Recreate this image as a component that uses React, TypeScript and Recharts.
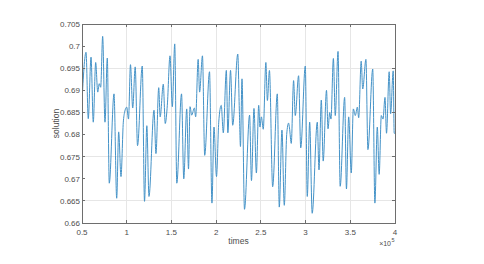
import { LineChart, Line, XAxis, YAxis, CartesianGrid, Label, ReferenceArea } from 'recharts';

// sample times (x10^5) and solution values
const times = [
  0.5, 0.545, 0.57, 0.601, 0.626, 0.653, 0.676, 0.693, 0.709, 0.731, 0.757, 0.783, 0.805, 0.858, 0.888,
  0.91, 0.936, 0.962, 0.977, 1.0, 1.02, 1.042, 1.067, 1.095, 1.121, 1.174, 1.199, 1.225, 1.249, 1.305,
  1.327, 1.358, 1.374, 1.409, 1.431, 1.454, 1.484, 1.51, 1.537, 1.56, 1.613, 1.638, 1.671, 1.691, 1.708,
  1.727, 1.756, 1.771, 1.799, 1.815, 1.847, 1.872, 1.926, 1.953, 1.976, 2.004, 2.029, 2.057, 2.08, 2.114,
  2.131, 2.161, 2.185, 2.242, 2.259, 2.272, 2.289, 2.317, 2.374, 2.395, 2.423, 2.45, 2.476, 2.49, 2.506,
  2.527, 2.556, 2.573, 2.596, 2.632, 2.684, 2.706, 2.736, 2.762, 2.789, 2.81, 2.82, 2.84, 2.866, 2.885,
  2.922, 2.946, 2.997, 3.019, 3.046, 3.074, 3.131, 3.15, 3.176, 3.197, 3.234, 3.251, 3.27, 3.284, 3.311,
  3.332, 3.363, 3.387, 3.437, 3.457, 3.482, 3.511, 3.534, 3.556, 3.579, 3.594, 3.622, 3.639, 3.675, 3.697,
  3.751, 3.775, 3.802, 3.823, 3.847, 3.866, 3.888, 3.905, 3.935, 3.951, 3.98, 3.991, 4.0,
];

const solution = [
  0.6875, 0.6986, 0.6836, 0.6975, 0.6828, 0.6963, 0.6896, 0.6915, 0.6907, 0.7022, 0.6828, 0.6973, 0.669, 0.6892, 0.6656,
  0.6806, 0.6705, 0.6828, 0.6851, 0.6862, 0.6835, 0.6958, 0.686, 0.6953, 0.6775, 0.6955, 0.6649, 0.682, 0.666, 0.6855,
  0.6757, 0.6906, 0.684, 0.6914, 0.6825, 0.6866, 0.6978, 0.6863, 0.7005, 0.669, 0.6892, 0.67, 0.6858, 0.6722, 0.6863,
  0.6844, 0.686, 0.684, 0.697, 0.6896, 0.6978, 0.6753, 0.6942, 0.6645, 0.6817, 0.6705, 0.6828, 0.6866, 0.6804, 0.6945,
  0.6804, 0.6945, 0.6821, 0.6982, 0.6858, 0.6773, 0.6926, 0.6631, 0.6844, 0.6696, 0.6859, 0.6713, 0.6866, 0.6817, 0.684,
  0.6812, 0.6963, 0.6877, 0.6945, 0.6682, 0.6892, 0.6636, 0.681, 0.664, 0.68, 0.6826, 0.6815, 0.678, 0.6922, 0.6843,
  0.6933, 0.677, 0.6955, 0.666, 0.6828, 0.6622, 0.6828, 0.672, 0.6878, 0.674, 0.69, 0.6813, 0.685, 0.6835, 0.6972,
  0.6843, 0.6988, 0.6683, 0.6884, 0.6677, 0.684, 0.6713, 0.6858, 0.6843, 0.6862, 0.6838, 0.6966, 0.6903, 0.697, 0.6766,
  0.6948, 0.6645, 0.6817, 0.671, 0.6843, 0.6835, 0.6884, 0.6803, 0.6942, 0.6847, 0.6944, 0.6803, 0.6803,
];

const xTicks = [0.5, 1, 1.5, 2, 2.5, 3, 3.5, 4];
const yTicks = [0.66, 0.665, 0.67, 0.675, 0.68, 0.685, 0.69, 0.695, 0.7, 0.705];

const data = times.map((t, i) => ({ t, v: solution[i] }));

// MATLAB-ish look
const FONT = "'Liberation Sans', Arial, sans-serif";
const AXIS = '#6e6e6e';
const TEXT = '#4d4d4d';
const GRID = '#e6e6e6';
const LINE = '#4593c8';

const fmt = (v: number) => String(Number(v.toFixed(3)));

const tickStyle = { fill: TEXT, fontSize: 8, fontFamily: FONT };
const axisLineStyle = { stroke: AXIS, shapeRendering: 'crispEdges' };

// tick marks only, no label (top / right box edges)
const noLabel = () => <g />;

export default function App() {
  return (
    <div style={{ position: 'absolute', left: 0, top: 0, width: 484, height: 264, background: '#fff' }}>
      <LineChart
        width={484}
        height={264}
        data={data}
        margin={{ top: 23, right: 88, bottom: 11, left: 32 }}
      >
        <CartesianGrid xAxisId="b" yAxisId="l" stroke={GRID} strokeWidth={1} shapeRendering="crispEdges" />
        <XAxis
          xAxisId="b"
          dataKey="t"
          type="number"
          domain={[0.5, 4]}
          ticks={xTicks}
          tickFormatter={fmt}
          height={30}
          tickSize={-3}
          tickMargin={9}
          tick={tickStyle}
          axisLine={axisLineStyle}
          tickLine={axisLineStyle}
          allowDataOverflow
        >
          <Label
            content={({ viewBox }: any) => (
              <g fontFamily={FONT}>
                <text
                  x={viewBox.x + viewBox.width / 2}
                  y={viewBox.y + 21}
                  textAnchor="middle"
                  fontSize={8.5}
                  fill={TEXT}
                >
                  times
                </text>
                <text
                  x={viewBox.x + viewBox.width - 4}
                  y={viewBox.y + 23}
                  textAnchor="end"
                  fontSize={7}
                  fill={TEXT}
                >
                  {'\u00d710'}
                </text>
                <text
                  x={viewBox.x + viewBox.width - 3.5}
                  y={viewBox.y + 19}
                  textAnchor="start"
                  fontSize={5.5}
                  fill={TEXT}
                >
                  5
                </text>
              </g>
            )}
          />
        </XAxis>
        <XAxis
          xAxisId="t"
          orientation="top"
          dataKey="t"
          type="number"
          domain={[0.5, 4]}
          ticks={xTicks}
          height={1}
          tickSize={-3}
          tick={noLabel}
          axisLine={axisLineStyle}
          tickLine={axisLineStyle}
          allowDataOverflow
        />
        <YAxis
          yAxisId="l"
          type="number"
          domain={[0.66, 0.705]}
          ticks={yTicks}
          tickFormatter={fmt}
          width={50}
          tickSize={-3}
          tickMargin={5}
          tick={tickStyle}
          axisLine={axisLineStyle}
          tickLine={axisLineStyle}
          allowDataOverflow
        >
          <Label
            content={({ viewBox }: any) => (
              <text
                x={viewBox.x + 27}
                y={viewBox.y + viewBox.height / 2}
                transform={`rotate(-90 ${viewBox.x + 27} ${viewBox.y + viewBox.height / 2})`}
                textAnchor="middle"
                fontSize={8.5}
                fontFamily={FONT}
                fill={TEXT}
              >
                solution
              </text>
            )}
          />
        </YAxis>
        <YAxis
          yAxisId="r"
          orientation="right"
          type="number"
          domain={[0.66, 0.705]}
          ticks={yTicks}
          width={1}
          tickSize={-3}
          tick={noLabel}
          axisLine={axisLineStyle}
          tickLine={axisLineStyle}
          allowDataOverflow
        />
        {/* invisible series so the top/right axes get drawn */}
        <Line
          xAxisId="t"
          yAxisId="r"
          dataKey="v"
          stroke="none"
          dot={false}
          activeDot={false}
          isAnimationActive={false}
        />
        <Line
          xAxisId="b"
          yAxisId="l"
          type="monotone"
          dataKey="v"
          stroke={LINE}
          strokeWidth={1}
          dot={false}
          isAnimationActive={false}
        />
        <ReferenceArea
          xAxisId="b"
          yAxisId="l"
          x1={0.5}
          x2={4}
          y1={0.66}
          y2={0.705}
          fill="none"
          stroke={AXIS}
          strokeWidth={1}
          shapeRendering="crispEdges"
          ifOverflow="visible"
        />
      </LineChart>
    </div>
  );
}
